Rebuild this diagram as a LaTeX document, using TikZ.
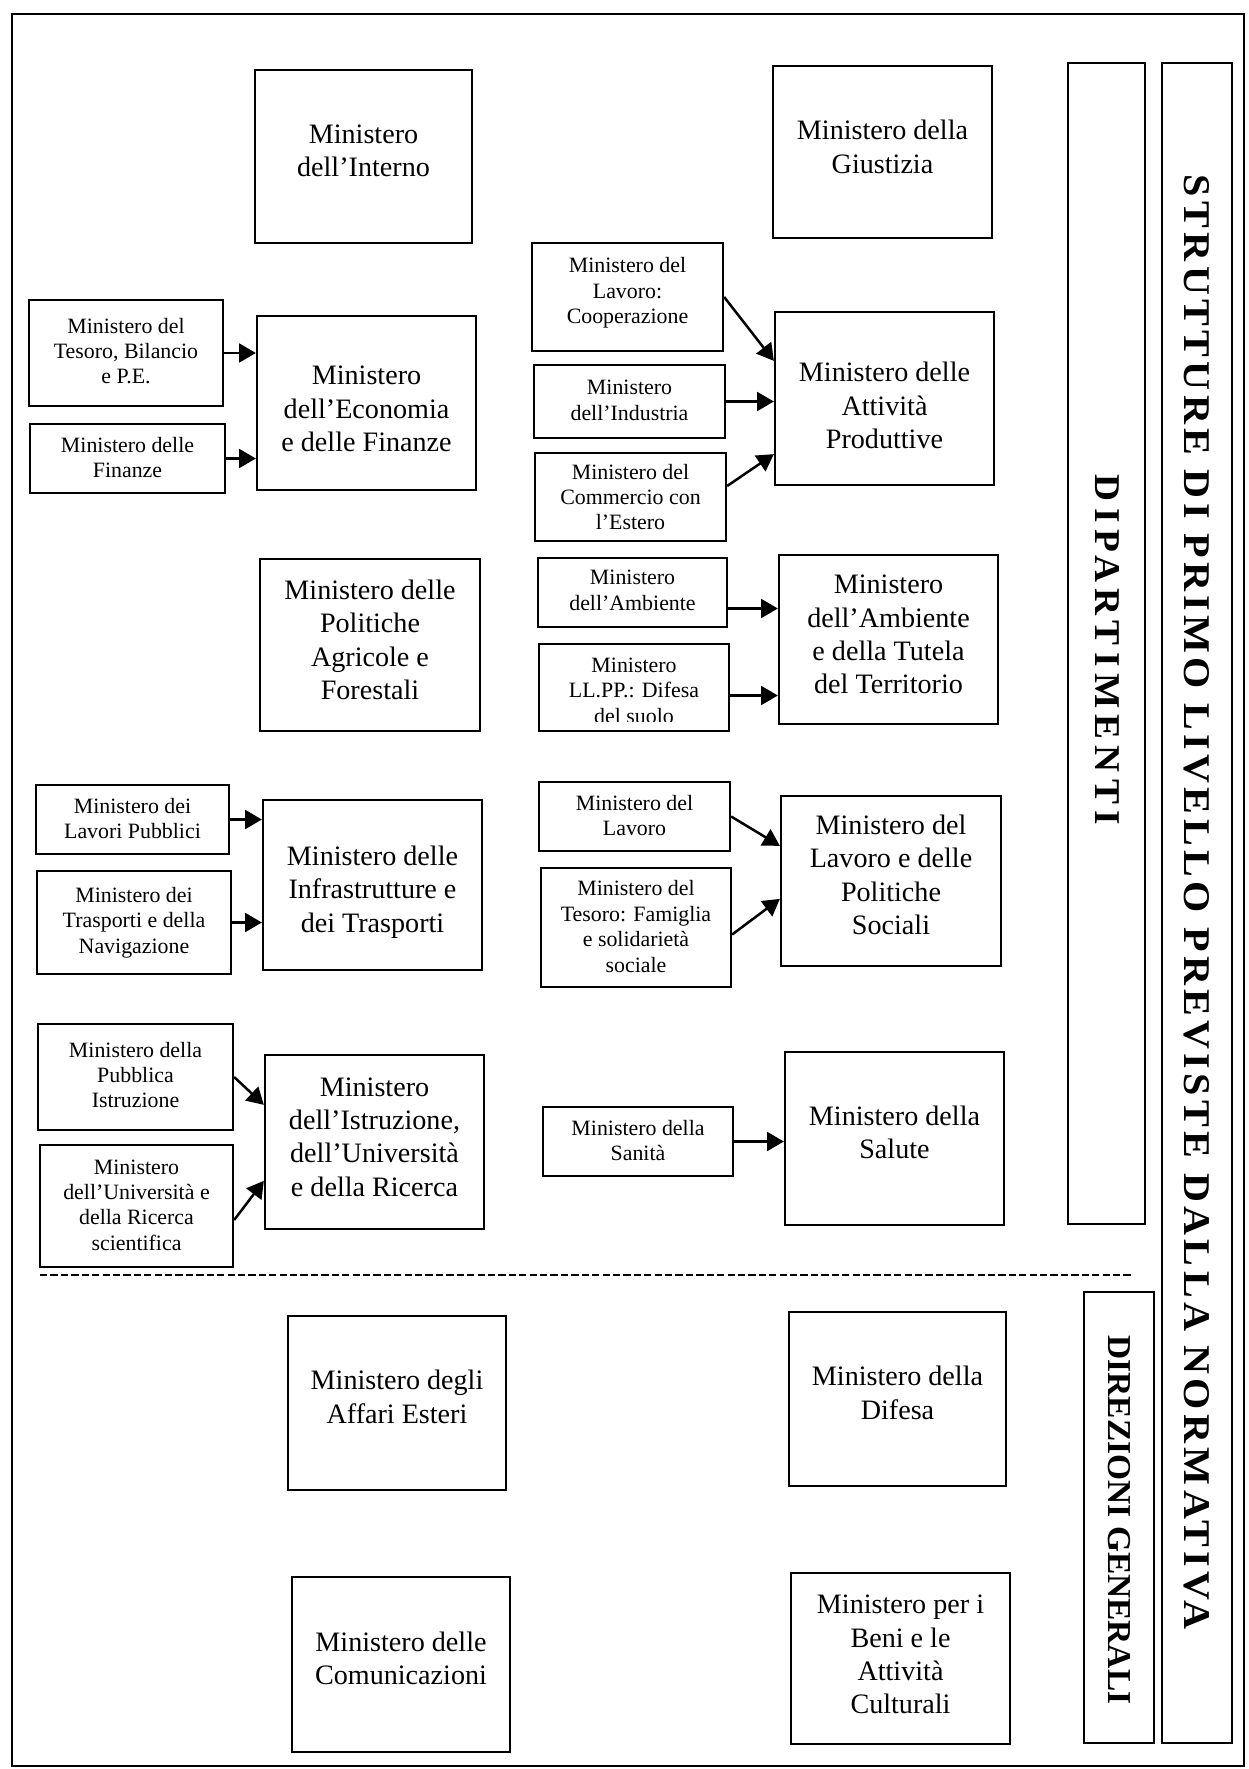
\documentclass[tikz,border=0pt]{standalone}
\usepackage{fontspec}
\setmainfont{Liberation Serif}
\usepackage{graphicx}
\usetikzlibrary{arrows.meta,calc,fit}
\tikzset{
  frm/.style={draw, line width=1.1pt, inner sep=0pt},
  bigbox/.style={frm},
  smallbox/.style={frm},
  bigtxt/.style={align=center, inner sep=0pt, font=\fontsize{13.5}{16}\selectfont},
  smalltxt/.style={align=center, inner sep=0pt, font=\fontsize{10.5}{12.2}\selectfont},
  arr/.style={line width=1.2pt, -{Triangle[length=8pt,width=9pt]}},
  sidetxt/.style={rotate=-90, inner sep=0pt},
  dline/.style={line width=1pt, dash pattern=on 3.5pt off 1.5pt},
}
\newcommand\minbox[6]{%
  \node[#1box, fit={(#3) (#4)}] (#2) {};
  \node[#1txt] (#2T) at ($(#2.center)+(0,#5)$) {#6};}
\begin{document}
\begin{tikzpicture}[x=0.48pt,y=-0.48pt]
\useasboundingbox (0,0) rectangle (1249,1769);
\node[frm, line width=1pt, fit={(12,14) (1244,1766)}] (frame) {};

% side bars
\node[frm, fit={(1068,63) (1145,1224)}] (dipbar) {};
\node[frm, fit={(1084,1292) (1154,1743)}] (dirbar) {};
\node[frm, fit={(1162,63) (1232,1743)}] (strbar) {};
\node[sidetxt] (diptext) at (1107,650) {\resizebox{168pt}{11.5pt}{\bfseries\addfontfeature{LetterSpace=17}DIPARTIMENTI}};
\node[sidetxt] (strtext) at (1197,902) {\resizebox{698pt}{12pt}{\bfseries\addfontfeature{LetterSpace=11}STRUTTURE DI PRIMO LIVELLO PREVISTE DALLA NORMATIVA}};
\node[sidetxt] (dirtext) at (1119,1520) {\resizebox{177pt}{!}{\bfseries DIREZIONI GENERALI}};

% big boxes
\minbox{big}{interno}{255,70}{472,243}{-6}{Ministero\\dell’Interno}
\minbox{big}{giust}{773,66}{992,238}{-5}{Ministero della\\Giustizia}
\minbox{big}{econ}{257,316}{476,490}{6}{Ministero\\dell’Economia\\e delle Finanze}
\minbox{big}{attiv}{775,312}{994,485}{7}{Ministero delle\\Attività\\Produttive}
\minbox{big}{agri}{260,559}{480,731}{-5}{Ministero delle\\Politiche\\Agricole e\\Forestali}
\minbox{big}{tutela}{779,555}{998,724}{-5}{Ministero\\dell’Ambiente\\e della Tutela\\del Territorio}
\minbox{big}{infra}{263,800}{482,970}{7}{Ministero delle\\Infrastrutture e\\dei Trasporti}
\minbox{big}{polsoc}{781,796}{1001,966}{-6}{Ministero del\\Lavoro e delle\\Politiche\\Sociali}
\minbox{big}{istr}{265,1055}{484,1229}{-5}{Ministero\\dell’Istruzione,\\dell’Università\\e della Ricerca}
\minbox{big}{salute}{785,1052}{1004,1225}{-6}{Ministero della\\Salute}
\minbox{big}{esteri}{288,1316}{506,1490}{-6}{Ministero degli\\Affari Esteri}
\minbox{big}{difesa}{789,1312}{1006,1486}{-6}{Ministero della\\Difesa}
\minbox{big}{comun}{292,1577}{510,1752}{-6}{Ministero delle\\Comunicazioni}
\minbox{big}{beni}{791,1573}{1010,1744}{-4}{Ministero per i\\Beni e le\\Attività\\Culturali}

% small boxes
\minbox{small}{tesoro}{29,300}{223,406}{-2}{Ministero del\\Tesoro, Bilancio\\e P.E.}
\minbox{small}{finanze}{30,424}{225,493}{-1}{Ministero delle\\Finanze}
\minbox{small}{coop}{532,243}{723,351}{-4}{Ministero del\\Lavoro:\\Cooperazione}
\minbox{small}{indu}{534,365}{725,438}{-1}{Ministero\\dell’Industria}
\minbox{small}{comm}{535,453}{726,541}{0}{Ministero del\\Commercio con\\l’Estero}
\minbox{small}{amb}{538,558}{727,627}{-2}{Ministero\\dell’Ambiente}
\node[smallbox, fit={(539,644) (729,731)}] (llpp) {};
\begin{scope}
\clip (539,644) rectangle (729,721);
\node[smalltxt] (llppT) at ($(llpp.center)+(0,3)$) {Ministero\\LL.PP.: Difesa\\del suolo};
\end{scope}
\minbox{small}{lavpub}{36,785}{229,854}{-1}{Ministero dei\\Lavori Pubblici}
\minbox{small}{trasp}{37,871}{231,974}{0}{Ministero dei\\Trasporti e della\\Navigazione}
\minbox{small}{lav}{539,782}{730,851}{-1}{Ministero del\\Lavoro}
\minbox{small}{fam}{541,868}{731,987}{-1}{Ministero del\\Tesoro: Famiglia\\e solidarietà\\sociale}
\minbox{small}{pubi}{38,1024}{233,1130}{-2}{Ministero della\\Pubblica\\Istruzione}
\minbox{small}{univ}{40,1145}{233,1267}{-1}{Ministero\\dell’Università e\\della Ricerca\\scientifica}
\minbox{small}{sanita}{543,1107}{733,1176}{-1}{Ministero della\\Sanità}

% arrows
\draw[arr] (tesoro.east) -- (tesoro.east -| econ.west);
\draw[arr] (finanze.east) -- (finanze.east -| econ.west);
\draw[arr] (coop.east) -- ($(attiv.north west)+(0,50)$);
\draw[arr] (indu.east) -- (indu.east -| attiv.west);
\draw[arr] ($(comm.east)+(0,-11)$) -- ($(attiv.south west)+(0,-32)$);
\coordinate (ambA) at ($(amb.east)+(0,16)$);
\draw[arr] (ambA) -- (ambA -| tutela.west);
\coordinate (llA) at ($(llpp.east)+(0,8)$);
\draw[arr] (llA) -- (llA -| tutela.west);
\draw[arr] (lavpub.east) -- (lavpub.east -| infra.west);
\draw[arr] (trasp.east) -- (trasp.east -| infra.west);
\draw[arr] (lav.east) -- ($(polsoc.north west)+(0,51)$);
\draw[arr] ($(fam.east)+(0,7)$) -- ($(polsoc.north west)+(0,104)$);
\draw[arr] (pubi.east) -- ($(istr.north west)+(0,51)$);
\draw[arr] ($(univ.east)+(0,14)$) -- ($(istr.north west)+(0,127)$);
\draw[arr] (sanita.east) -- (sanita.east -| salute.west);

% dashed separator
\coordinate (dl) at (40,1275);
\coordinate (dr) at (1131,1275);
\draw[dline] (dl) -- (dr);
\end{tikzpicture}
\end{document}
